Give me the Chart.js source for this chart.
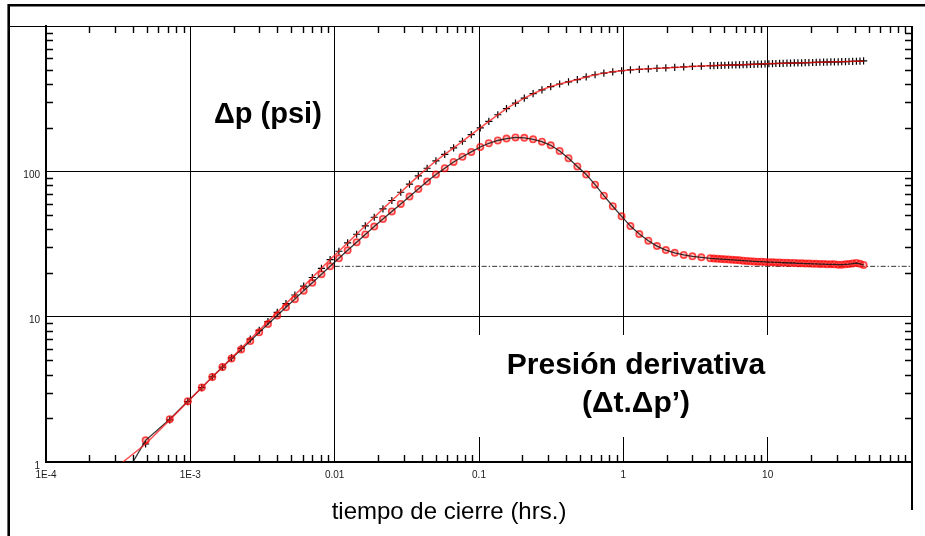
<!DOCTYPE html>
<html><head><meta charset="utf-8">
<script src="https://cdn.jsdelivr.net/npm/chart.js@4.4.0/dist/chart.umd.min.js"></script>
<style>html,body{margin:0;padding:0;background:#fff;overflow:hidden}canvas{display:block}</style>
</head><body>
<canvas id="c" width="925" height="536" style="width:925px;height:536px"></canvas>
<script>
// ---- data (shut-in time in hrs) ----
const time = [
  4.9e-4, 7.2e-4, 9.6e-4, 1.2e-3, 1.42e-3, 1.67e-3, 1.93e-3, 2.25e-3, 2.6e-3, 3.0e-3,
  3.45e-3, 4.0e-3, 4.6e-3, 5.3e-3, 6.1e-3, 7.0e-3, 8.1e-3, 9.3e-3, 0.0107, 0.0123,
  0.0142, 0.0163, 0.0188, 0.0216, 0.0249, 0.0287, 0.033, 0.038, 0.0437, 0.0503,
  0.0579, 0.0667, 0.0768, 0.0884, 0.102, 0.117, 0.135, 0.155, 0.179, 0.206,
  0.237, 0.273, 0.314, 0.362, 0.417, 0.48, 0.553, 0.637, 0.733, 0.845,
  0.973, 1.12, 1.29, 1.49, 1.71, 1.97, 2.27, 2.62, 3.01, 3.47,
  4.0, 4.24, 4.5, 4.77, 5.05, 5.36, 5.68, 6.02, 6.38, 6.76,
  7.17, 7.6, 8.05, 8.54, 9.05, 9.59, 10.2, 10.8, 11.4, 12.1,
  12.8, 13.6, 14.4, 15.3, 16.2, 17.2, 18.2, 19.3, 20.5, 21.7,
  23.0, 24.4, 25.8, 27.4, 29.0, 30.8, 32.6, 34.6, 36.6, 38.8,
  41.2, 43.6, 46.2
];
const deltaP = [
  1.33, 1.95, 2.6, 3.25, 3.85, 4.5, 5.2, 6.05, 7.0, 8.05,
  9.25, 10.7, 12.3, 14.1, 16.2, 18.6, 21.5, 24.7, 28.2, 32.2,
  36.9, 42.2, 48.3, 55.2, 63, 71.8, 81.6, 93, 105, 118,
  131, 145, 161, 179, 199, 221, 245, 270, 295, 319,
  342, 364, 383, 399, 413, 428, 446, 462, 474, 484,
  492, 499, 503, 507, 511, 515, 519, 523, 527, 530,
  533, 534, 535, 536, 537, 538, 539, 540, 541, 542,
  543, 544, 545, 546, 547, 549, 550, 551, 552, 553,
  554, 555, 556, 557, 557, 558, 559, 560, 561, 562,
  563, 564, 565, 566, 567, 567, 568, 569, 570, 571,
  572, 573, 575
];
const derivative = [
  1.41, 1.97, 2.62, 3.25, 3.85, 4.5, 5.15, 5.95, 6.8, 7.8,
  8.9, 10.2, 11.6, 13.2, 15.1, 17.1, 19.6, 22.2, 25.2, 28.6,
  32.5, 36.8, 41.7, 47.0, 53.0, 59.7, 67.0, 75.5, 85, 95,
  105, 116, 126, 136, 147, 156, 163, 168, 171, 170,
  166, 160, 151, 138, 123, 108, 95, 81, 68, 57.5,
  49, 42, 37, 33.3, 30.6, 28.7, 27.5, 26.6, 26.0, 25.6,
  25.2, 25.1, 25.0, 24.9, 24.8, 24.7, 24.6, 24.5, 24.4, 24.3,
  24.2, 24.1, 24.0, 23.9, 23.9, 23.8, 23.7, 23.7, 23.6, 23.6,
  23.5, 23.5, 23.4, 23.4, 23.3, 23.3, 23.2, 23.2, 23.1, 23.1,
  23.0, 23.0, 22.9, 22.9, 22.9, 22.8, 22.8, 22.9, 23.0, 23.2,
  23.4, 23.1, 22.7
];
// start points of the model lines (where they leave the bottom axis)
const pressModelStartT = [3.41e-4];
const pressModelStartV = [1.0];
const derivModelStartT = [4.0e-4];
const derivModelStartV = [1.0];
// radial-flow stabilisation line
const stabT = [0.01, 100];
const stabV = [22.2, 22.2];
// axes
const xTickValues = [1e-4, 1e-3, 0.01, 0.1, 1, 10, 100];
const xTickLabels = ['1E-4', '1E-3', '0.01', '0.1', '1', '10', ''];
const yTickValues = [1, 10, 100, 1000];
const yTickLabels = ['1', '10', '100', ''];
const xTitle = 'tiempo de cierre (hrs.)';
const labelPressure = 'Δp (psi)';
const labelDerivative = ['Presión derivativa', '(Δt.Δp’)'];

const FONT = '"Liberation Sans", Arial, Helvetica, sans-serif';

const pts = (tx, vy) => tx.map((t, i) => ({x: t, y: vy[i]}));
const pressPts = pts(time, deltaP);
const derivPts = pts(time, derivative);
const pressLine = pts(pressModelStartT, pressModelStartV).concat(pressPts);
const derivLine = pts(derivModelStartT, derivModelStartV).concat(derivPts);
const stabPts = pts(stabT, stabV);

const decor = {
  id: 'decor',
  beforeDraw(chart) {
    const ctx = chart.ctx;
    ctx.save();
    ctx.fillStyle = '#fff';
    ctx.fillRect(0, 0, chart.width, chart.height);
    ctx.restore();
  },
  beforeDatasetsDraw(chart) {
    const {ctx, chartArea: a, scales: {x, y}} = chart;
    ctx.save();
    // white box behind the derivative label
    ctx.fillStyle = '#fff';
    ctx.fillRect(470, 335, 330, 102);
    // minor inner ticks
    ctx.strokeStyle = '#000';
    ctx.lineWidth = 1.4;
    const L = 7;
    ctx.beginPath();
    for (let d = 1e-4; d < 100; d *= 10) {
      for (let m = 2; m <= 9; m++) {
        const px = Math.round(x.getPixelForValue(d * m)) + 0.5;
        ctx.moveTo(px, a.top); ctx.lineTo(px, a.top + L);
        ctx.moveTo(px, a.bottom); ctx.lineTo(px, a.bottom - L);
      }
    }
    for (let d = 1; d < 1000; d *= 10) {
      for (let m = 2; m <= 9; m++) {
        const py = Math.round(y.getPixelForValue(d * m)) + 0.5;
        ctx.moveTo(a.left, py); ctx.lineTo(a.left + L, py);
        ctx.moveTo(a.right, py); ctx.lineTo(a.right - L, py);
      }
    }
    ctx.stroke();
    ctx.restore();
  },
  afterDraw(chart) {
    const {ctx, chartArea: a} = chart;
    ctx.save();
    // top line of plot extending to frame
    ctx.strokeStyle = '#000';
    ctx.lineWidth = 1;
    ctx.beginPath();
    ctx.moveTo(8, Math.round(a.top) + 0.5); ctx.lineTo(a.right, Math.round(a.top) + 0.5);
    ctx.stroke();
    // right border (thicker), continuing below
    ctx.lineWidth = 2;
    ctx.beginPath();
    ctx.moveTo(a.right, a.top); ctx.lineTo(a.right, 510);
    ctx.stroke();
    // outer frame (left and top)
    ctx.lineWidth = 2.6;
    ctx.beginPath();
    ctx.moveTo(8.7, 536); ctx.lineTo(8.7, 5.3); ctx.lineTo(925, 5.3);
    ctx.stroke();
    // texts
    ctx.fillStyle = '#000';
    ctx.textBaseline = 'alphabetic';
    ctx.font = 'bold 29px ' + FONT;
    ctx.textAlign = 'left';
    ctx.fillText(labelPressure, 214, 123);
    ctx.font = 'bold 30px ' + FONT;
    ctx.textAlign = 'center';
    ctx.fillText(labelDerivative[0], 636, 374);
    ctx.fillText(labelDerivative[1], 636, 412);
    ctx.font = '24px ' + FONT;
    ctx.fillText(xTitle, 449, 519);
    ctx.restore();
  }
};

new Chart(document.getElementById('c'), {
  type: 'scatter',
  data: {
    datasets: [
      {label: 'Modelo Δp', data: pressLine, showLine: true, borderColor: 'rgba(255,20,20,0.75)',
       borderWidth: 1.5, pointRadius: 0, fill: false},
      {label: 'Modelo derivada', data: derivLine, showLine: true, borderColor: 'rgba(20,20,20,0.85)',
       borderWidth: 1.3, pointRadius: 0, fill: false},
      {label: 'Derivada', data: derivPts, showLine: false, pointStyle: 'circle', pointRadius: 3.2,
       pointBorderColor: 'rgba(255,0,0,0.7)', pointBackgroundColor: 'rgba(255,40,40,0.3)', pointBorderWidth: 1.6},
      {label: 'Δp', data: pressPts, showLine: false, pointStyle: 'cross', pointRadius: 3.6,
       pointBorderColor: '#000', pointBorderWidth: 1.2},
      {label: 'Estabilización', data: stabPts, showLine: true, borderColor: '#333', borderWidth: 1,
       borderDash: [5, 2, 1.5, 2], pointRadius: 0, fill: false}
    ]
  },
  options: {
    responsive: false, animation: false, devicePixelRatio: 1,
    layout: {padding: {left: 0, top: 26, right: 13, bottom: 0}},
    plugins: {legend: {display: false}, tooltip: {enabled: false}},
    scales: {
      x: {
        type: 'logarithmic', position: 'bottom', min: 1e-4, max: 100,
        afterBuildTicks: s => { s.ticks = xTickValues.map(v => ({value: v})); },
        afterFit: s => { s.height = 74; },
        ticks: {autoSkip: false, maxRotation: 0, minRotation: 0, padding: 7, color: '#1a1a1a',
                font: {family: FONT, size: 10}, callback: (v, i) => xTickLabels[i]},
        grid: {drawTicks: false, color: '#000', lineWidth: 1},
        border: {display: true, color: '#000', width: 2}
      },
      y: {
        type: 'logarithmic', position: 'left', min: 1, max: 1000,
        afterBuildTicks: s => { s.ticks = yTickValues.map(v => ({value: v})); },
        afterFit: s => { s.width = 46; },
        ticks: {autoSkip: false, padding: 6, labelOffset: 4, color: '#1a1a1a',
                font: {family: FONT, size: 10}, callback: (v, i) => yTickLabels[i]},
        grid: {drawTicks: false, color: '#000', lineWidth: 1},
        border: {display: true, color: '#000', width: 2}
      }
    }
  },
  plugins: [decor]
});
</script>
</body></html>
